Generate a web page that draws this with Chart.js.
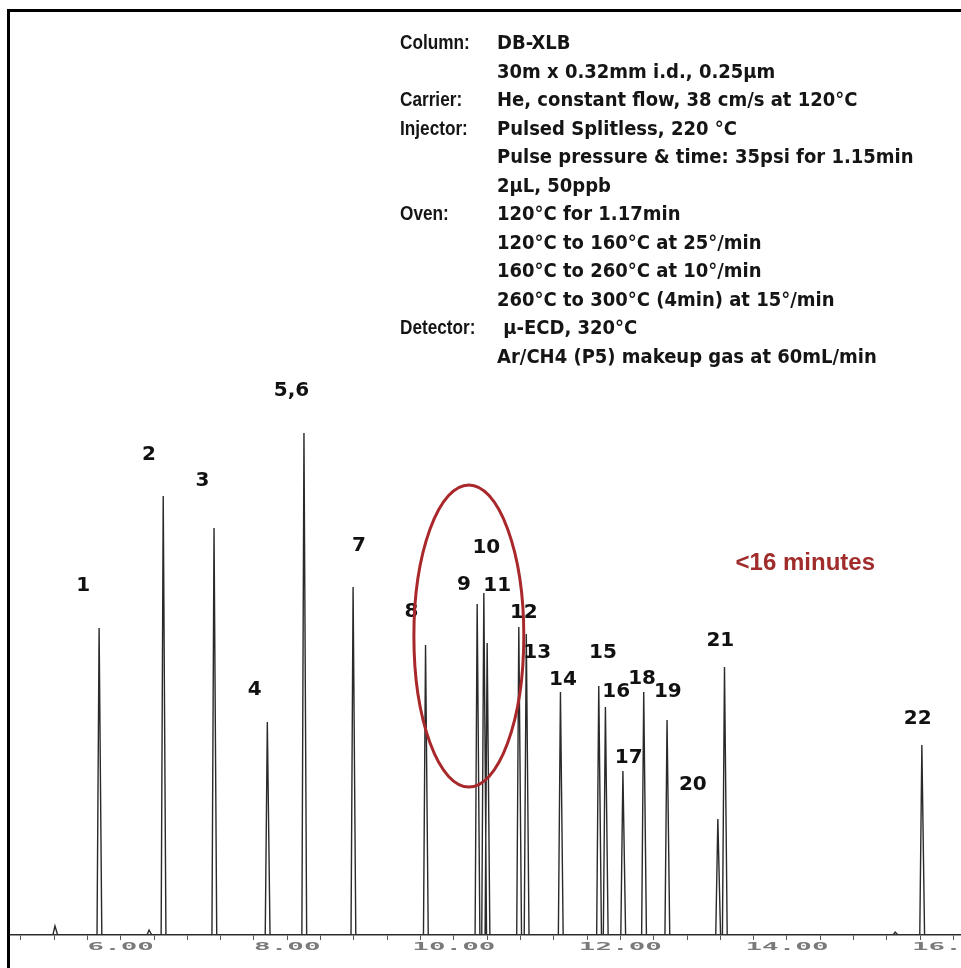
<!DOCTYPE html>
<html>
<head>
<meta charset="utf-8">
<script src="https://cdn.jsdelivr.net/npm/chart.js@4"></script>
<style>
    html, body { margin: 0; padding: 0; background: #fff; }
    #wrap { position: relative; width: 961px; height: 968px; overflow: hidden; }
    #frame {
        position: absolute; left: 7px; top: 9px; right: -10px; bottom: -10px;
        border-top: 3px solid #000; border-left: 3px solid #000;
    }
    #chromatogram { position: absolute; left: 0; top: 0; }
    #conditions {
        position: absolute; left: 400px; top: 28px;
        font-family: "DejaVu Sans Condensed", "DejaVu Sans", sans-serif;
        font-stretch: condensed;
        font-weight: bold; font-size: 20px; line-height: 28.5px; color: #151515;
    }
    #conditions .row { display: flex; white-space: nowrap; }
    #conditions .key { width: 97px; flex: none; }
    #conditions .key span {
        display: inline-block; transform: scaleX(0.86); transform-origin: left center;
        font-family: "Liberation Sans", Arial, sans-serif; font-stretch: normal; font-size: 20px;
    }
</style>
</head>
<body>
<div id="wrap">
    <canvas id="chromatogram" width="961" height="968"></canvas>
    <div id="frame"></div>
    <div id="conditions"></div>
</div>
<script>
// peaks (retention time in min, detector response)
const peakLabels = ['1', '2', '3', '4', '5,6', '7', '8', '9', '10', '11', '12', '13', '14', '15', '16', '17', '18', '19', '20', '21', '22'];
const retentionTimes = [5.74, 6.51, 7.12, 7.76, 8.20, 8.79, 9.66, 10.28, 10.36, 10.40, 10.78, 10.87, 11.28, 11.74, 11.82, 12.03, 12.28, 12.56, 13.17, 13.25, 15.62];
const peakHeights = [307, 439, 407, 213, 502, 348, 290, 331, 342, 292, 308, 301, 243, 249, 228, 164, 243, 215, 116, 268, 190];

// small baseline bumps, unlabeled
const minorTimes = [5.21, 6.34, 15.30];
const minorHeights = [9, 5, 3];

// where each peak number sits (min, response)
const labelTimes = [5.55, 6.34, 6.98, 7.61, 8.05, 8.86, 9.49, 10.12, 10.39, 10.52, 10.84, 11.00, 11.31, 11.79, 11.95, 12.10, 12.26, 12.57, 12.87, 13.20, 15.57];
const labelLevels = [349, 480, 454, 245, 544, 389, 323, 350, 387, 349, 322, 282, 255, 282, 243, 177, 256, 243, 150, 294, 216];

// x axis
const tickValues = [4.8, 5.2, 5.6, 6.0, 6.4, 6.8, 7.2, 7.6, 8.0, 8.4, 8.8, 9.2, 9.6, 10.0, 10.4, 10.8, 11.2, 11.6, 12.0, 12.4, 12.8, 13.2, 13.6, 14.0, 14.4, 14.8, 15.2, 15.6, 16.0];
const tickLabels = ['6.00', '8.00', '10.00', '12.00', '14.00', '16.00'];
const tickLabelValues = [6, 8, 10, 12, 14, 16];

// run conditions
const conditionKeys = ['Column:', '', 'Carrier:', 'Injector:', '', '', 'Oven:', '', '', '', 'Detector:', ''];
const conditionValues = [
    'DB-XLB',
    '30m x 0.32mm i.d., 0.25µm',
    'He, constant flow, 38 cm/s at 120°C',
    'Pulsed Splitless, 220 °C',
    'Pulse pressure & time: 35psi for 1.15min',
    '2µL, 50ppb',
    '120°C for 1.17min',
    '120°C to 160°C at 25°/min',
    '160°C to 260°C at 10°/min',
    '260°C to 300°C (4min) at 15°/min',
    '\u00a0µ-ECD, 320°C',
    'Ar/CH4 (P5) makeup gas at 60mL/min'
];

// highlighted region
const highlightNote = '<16 minutes';
const highlightCenter = { x: 10.18, y: 299 };
const highlightRadius = { x: 0.66, y: 151 };

const conditions = document.querySelector('#conditions');
conditionKeys.forEach((key, i) => {
    const row = document.createElement('div');
    row.className = 'row';
    row.innerHTML = `<span class="key"><span>${key}</span></span><span></span>`;
    row.lastChild.textContent = conditionValues[i];
    conditions.appendChild(row);
});

// build the trace: baseline with narrow peaks
const HALF_WIDTH = 0.025;
const allPeaks = retentionTimes.map((t, i) => ({ t, h: peakHeights[i] }))
    .concat(minorTimes.map((t, i) => ({ t, h: minorHeights[i] })))
    .sort((a, b) => a.t - b.t);

const trace = [{ x: 4.67, y: 0 }];
allPeaks.forEach(p => {
    trace.push({ x: p.t - HALF_WIDTH, y: 0 });
    trace.push({ x: p.t, y: p.h });
    trace.push({ x: p.t + HALF_WIDTH * 1.3, y: 0 });
});
trace.push({ x: 16.09, y: 0 });

const annotations = {
    id: 'annotations',
    afterDatasetsDraw(chart) {
        const { ctx, scales: { x, y } } = chart;
        ctx.save();

        // peak numbers
        ctx.font = 'bold 20px "DejaVu Sans", sans-serif';
        ctx.fillStyle = '#111';
        ctx.textAlign = 'center';
        ctx.textBaseline = 'middle';
        peakLabels.forEach((label, i) => {
            ctx.fillText(label, x.getPixelForValue(labelTimes[i]), y.getPixelForValue(labelLevels[i]));
        });

        // red ellipse round peaks 9-11
        const cx = x.getPixelForValue(highlightCenter.x);
        const cy = y.getPixelForValue(highlightCenter.y);
        const rx = x.getPixelForValue(highlightCenter.x + highlightRadius.x) - cx;
        const ry = cy - y.getPixelForValue(highlightCenter.y + highlightRadius.y);
        ctx.beginPath();
        ctx.ellipse(cx, cy, rx, ry, 0, 0, Math.PI * 2);
        ctx.strokeStyle = '#a8282b';
        ctx.lineWidth = 3;
        ctx.stroke();

        ctx.font = 'bold 24px "Liberation Sans", Arial, sans-serif';
        ctx.fillStyle = '#a02c2c';
        ctx.fillText(highlightNote, x.getPixelForValue(14.22), y.getPixelForValue(372));

        // wide grey tick labels
        ctx.font = 'bold 12px "DejaVu Sans Mono", monospace';
        ctx.fillStyle = '#7a7a7a';
        tickLabelValues.forEach((v, i) => {
            ctx.save();
            ctx.translate(x.getPixelForValue(v), 947);
            ctx.scale(2.3, 0.85);
            ctx.fillText(tickLabels[i], 0, 0);
            ctx.restore();
        });

        ctx.restore();
    }
};

const ctx = document.getElementById('chromatogram').getContext('2d');
new Chart(ctx, {
    type: 'scatter',
    data: {
        datasets: [{
            label: 'ECD signal',
            data: trace,
            showLine: true,
            borderColor: '#2a2a2a',
            borderWidth: 1.4,
            pointRadius: 0,
            tension: 0
        }]
    },
    options: {
        responsive: false,
        animation: false,
        layout: { padding: { left: 10, top: 12, right: 0, bottom: 0 } },
        plugins: {
            legend: { display: false },
            tooltip: { enabled: false }
        },
        scales: {
            x: {
                type: 'linear',
                min: 4.67,
                max: 16.09,
                afterBuildTicks: (scale) => {
                    scale.ticks = tickValues.map(v => ({ value: v }));
                },
                afterFit: (scale) => { scale.height = 33; },
                ticks: { display: false },
                grid: {
                    drawOnChartArea: false,
                    drawTicks: true,
                    tickLength: 5,
                    color: '#555'
                },
                border: { color: '#333', width: 1.5 }
            },
            y: {
                display: false,
                min: 0,
                max: 923
            }
        }
    },
    plugins: [annotations]
});
</script>
</body>
</html>
